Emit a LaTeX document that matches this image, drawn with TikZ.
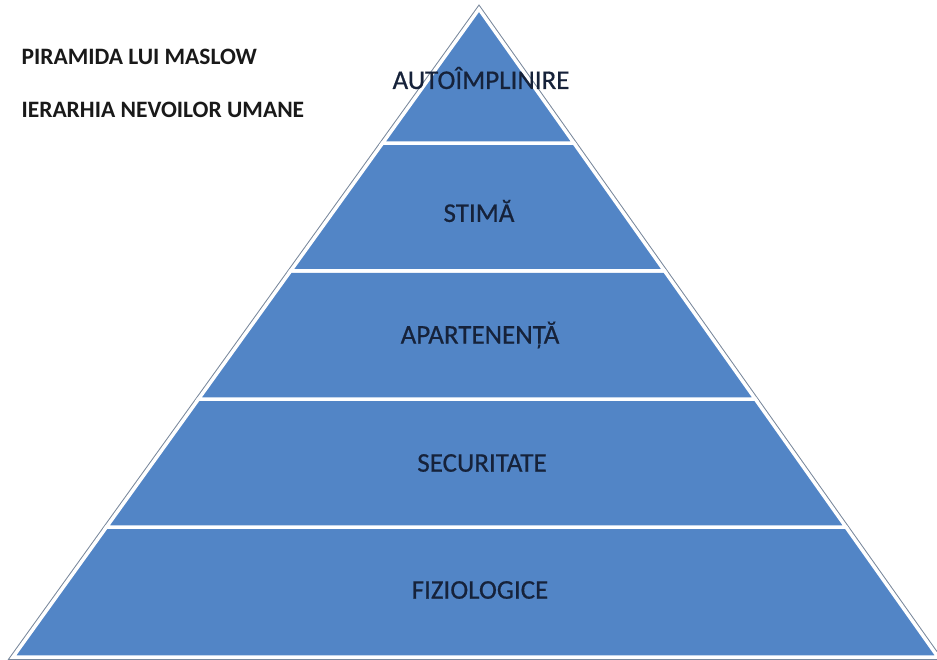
\documentclass[tikz,border=0pt]{standalone}
\usepackage{fontspec}
\setmainfont{Carlito}
\newfontfamily\labelfont{Carlito}[FakeBold=0.6]
\usetikzlibrary{calc}
\definecolor{bandblue}{RGB}{82,133,198}
\definecolor{labelink}{RGB}{22,34,58}
\definecolor{rimgray}{RGB}{120,135,155}
\tikzset{
  band/.style={fill=bandblue, draw=white, line width=3.5pt, line join=miter},
  level/.style={text=labelink, font=\labelfont\fontsize{27}{30}\selectfont},
  title/.style={anchor=west, text=black!90, font=\bfseries\fontsize{23.5}{26}\selectfont}
}
\begin{document}
\begin{tikzpicture}[x=1pt,y=-1pt]
        \useasboundingbox (0,0) rectangle (937,659);
        \coordinate (A) at (479,9);
        \coordinate (L) at (13,657);
        \coordinate (R) at (938,657);
        % points where the bands meet the sides
        \foreach \n/\t in {1/0.2006,2/0.398,3/0.5957,4/0.793} {
          \coordinate (L\n) at ($(L)!\t!(A)$);
          \coordinate (R\n) at ($(R)!\t!(A)$);
        }
        \draw[rimgray, line width=5.5pt, line join=miter] (A) -- (L) -- (R) -- cycle;
        \draw[band] (L) -- (R) -- (R1) -- (L1) -- cycle;
        \draw[band] (L1) -- (R1) -- (R2) -- (L2) -- cycle;
        \draw[band] (L2) -- (R2) -- (R3) -- (L3) -- cycle;
        \draw[band] (L3) -- (R3) -- (R4) -- (L4) -- cycle;
        \draw[band] (L4) -- (R4) -- (A) -- cycle;
        \node[level] (auto) at (481,78) {AUTOÎMPLINIRE};
        \node[level] (stima) at (479,211) {STIMĂ};
        \node[level] (apart) at (480,335) {APARTENENȚĂ};
        \node[level] (secur) at (482,463) {SECURITATE};
        \node[level] (fizio) at (480,590) {FIZIOLOGICE};
        \node[title] (piramida) at (18,57) {PIRAMIDA LUI MASLOW};
        \node[title] (ierarhia) at (18,110) {IERARHIA NEVOILOR UMANE};
\end{tikzpicture}
\end{document}
